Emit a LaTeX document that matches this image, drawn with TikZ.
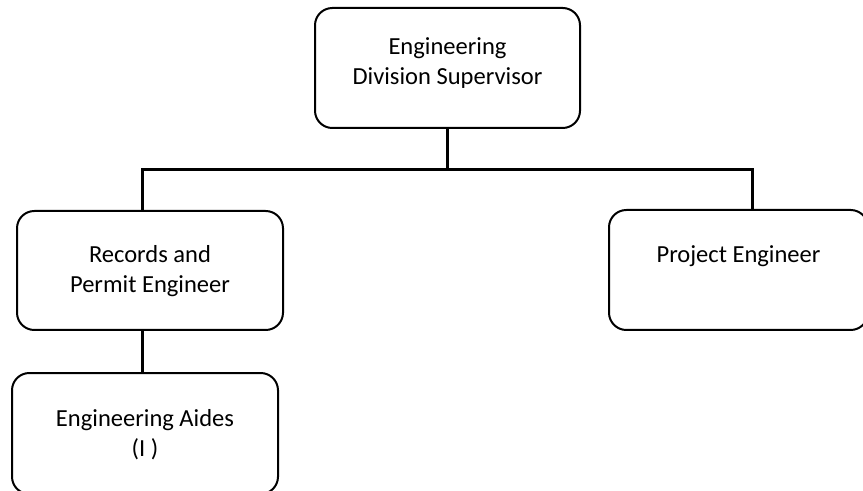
\documentclass[tikz,border=0pt]{standalone}
\usepackage{fontspec}
\setmainfont{Carlito}
\begin{document}
\begin{tikzpicture}[x=0.75pt,y=-0.75pt,
  orgbox/.style={draw=black, line width=1.5pt, rounded corners=13pt, inner sep=0pt,
    font=\fontsize{18.4pt}{22.5pt}\selectfont},
  conn/.style={draw=black, line width=2.25pt}]
\useasboundingbox (0,0) rectangle (863,491);
\clip (0,0) rectangle (863,491);
\fill[white] (0,0) rectangle (863,491);

\node[orgbox, minimum width=198.75pt, text height=35.25pt, text depth=54.75pt] (top) at (447.5,68)
  {\begin{tabular}[t]{@{}c@{}}Engineering\\Division Supervisor\end{tabular}};
\node[orgbox, minimum width=199.5pt, text height=39pt, text depth=50.25pt] (rec) at (150,270.5)
  {\begin{tabular}[t]{@{}c@{}}Records and\\Permit Engineer\end{tabular}};
\node[orgbox, minimum width=194.25pt, text height=39.75pt, text depth=50.25pt] (proj) at (738.5,270)
  {Project Engineer};
\node[orgbox, minimum width=199.5pt, text height=39.75pt, text depth=51pt] (aides) at (145,433.5)
  {\begin{tabular}[t]{@{}c@{}}Engineering Aides\\(I )\end{tabular}};

\coordinate (busL) at (142,170);
\coordinate (busR) at (752,170);
\draw[conn] (top.south) -- (top.south |- busL);
\draw[conn] (rec.north -| busL) -- (busL) -- (busR) -- (proj.north -| busR);
\draw[conn] (rec.south -| busL) -- (aides.north -| busL);
\end{tikzpicture}
\end{document}
